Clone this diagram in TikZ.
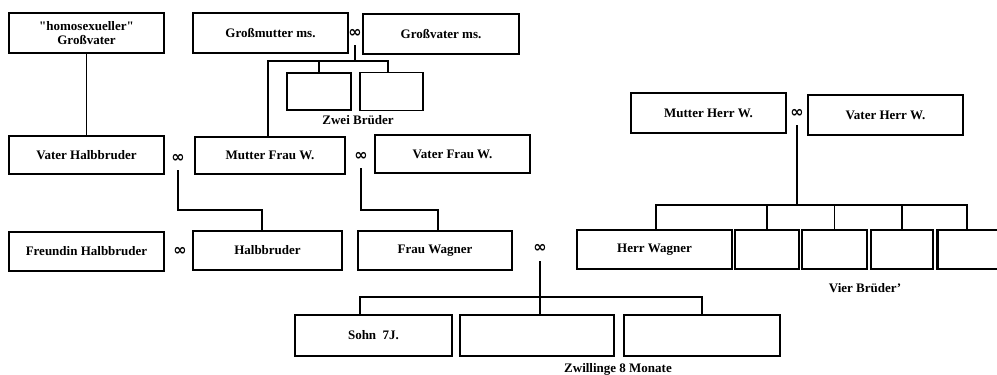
\documentclass[tikz,border=0pt]{standalone}
\usepackage{fontspec}
\setmainfont{Liberation Serif}[Ligatures=TeXOff]
\newfontfamily\symfont{DejaVu Sans}
\begin{document}
\begin{tikzpicture}[x=1pt,y=-1pt,
  box/.style={draw, line width=1.2pt, inner sep=0pt, align=center,
    font=\fontsize{13}{14.5}\selectfont\bfseries},
  thickbox/.style={box, line width=2.1pt},
  lbl/.style={inner sep=0pt, font=\fontsize{13}{14.5}\selectfont\bfseries},
  marr/.style={inner sep=0pt, font=\symfont\bfseries\fontsize{16}{16}\selectfont},
  link/.style={line width=1.1pt}]
\useasboundingbox[fill=white] (0,0) rectangle (997,375);
% generation 1
\node[box, minimum width=155pt, minimum height=40pt] (gv) at (86.5,33) {"homosexueller"\\Großvater};
\node[box, minimum width=155pt, minimum height=40pt] (gm) at (270.5,33) {Großmutter ms.};
\node[marr] (m1) at (355,33) {∞};
\node[box, minimum width=156pt, minimum height=40pt] (gvm) at (441,34) {Großvater ms.};
\node[box, minimum width=64pt, minimum height=37pt] (zb1) at (319,91.5) {};
\node[box, minimum width=63pt, minimum height=38pt] (zb2) at (391.5,91.5) {};
\node[lbl] (zbl) at (358,120) {Zwei Brüder};
% generation 2
\node[box, minimum width=155pt, minimum height=38pt] (vh) at (86.5,155) {Vater Halbbruder};
\node[marr] (m2) at (178,158) {∞};
\node[box, minimum width=150pt, minimum height=37pt] (mfw) at (270,155.5) {Mutter Frau W.};
\node[marr] (m3) at (361,156) {∞};
\node[box, minimum width=155pt, minimum height=38pt] (vfw) at (452.5,154) {Vater Frau W.};
\node[box, minimum width=155pt, minimum height=40pt] (mhw) at (708.5,113) {Mutter Herr W.};
\node[marr] (m4) at (797,113) {∞};
\node[box, minimum width=155pt, minimum height=40pt] (vhw) at (885.5,115) {Vater Herr W.};
% generation 3
\node[box, minimum width=155pt, minimum height=39pt] (fh) at (86.5,251.5) {Freundin Halbbruder};
\node[marr] (m5) at (180,251) {∞};
\node[box, minimum width=149pt, minimum height=39pt] (hb) at (267.5,250.5) {Halbbruder};
\node[thickbox, minimum width=154pt, minimum height=39pt] (fw) at (435,250.5) {Frau Wagner};
\node[marr] (m6) at (540,248) {∞};
\node[thickbox, minimum width=155pt, minimum height=39pt] (hw) at (654.5,249.5) {Herr Wagner};
\node[box, minimum width=64pt, minimum height=39pt] (b2) at (767,249.5) {};
\node[box, minimum width=65pt, minimum height=39pt] (b3) at (834.5,249.5) {};
\node[box, minimum width=62pt, minimum height=39pt] (b4) at (902,249.5) {};
\node[box, minimum width=64pt, minimum height=39pt] (b5) at (970,249.5) {};
\draw[line width=2.4pt] (b5.north west) -- (b5.south west);
\node[lbl] (vbl) at (865,288) {Vier Brüder’};
% generation 4
\node[box, minimum width=157pt, minimum height=41pt] (s7) at (373.5,335.5) {Sohn\ \ 7J.};
\node[box, minimum width=154pt, minimum height=41pt] (tw1) at (537,335.5) {};
\node[box, minimum width=156pt, minimum height=41pt] (tw2) at (702,335.5) {};
\node[lbl] (twl) at (618,369) {Zwillinge 8 Monate};
% connector junctions
\coordinate (j1l) at (268,61);
\coordinate (j1r) at (388,61);
\coordinate (j2) at (262,210);
\coordinate (j3) at (438,210);
\coordinate (j4l) at (656,205);
\coordinate (j4r) at (967,205);
\coordinate (j6l) at (360,297);
\coordinate (j6r) at (702,297);
% connectors
\draw[link] (gv.south) -- (gv.south |- vh.north);
\draw[link] ([yshift=-8pt]m1.south) -- (m1.south |- j1l);
\draw[link] (j1l |- mfw.north) -- (j1l) -- (j1r) -- (j1r |- zb2.north);
\draw[link] (zb1.north) -- (zb1.north |- j1l);
\draw[link] ([yshift=-8pt]m2.south) |- (j2) -- (j2 |- hb.north);
\draw[link] ([yshift=-8pt]m3.south) |- (j3) -- (j3 |- fw.north);
\draw[link] ([yshift=-8pt]m4.south) -- (m4.south |- j4l);
\draw[link] (j4l |- hw.north) -- (j4l) -- (j4r) -- (j4r |- b5.north);
\draw[link] (b2.north) -- (b2.north |- j4l);
\draw[link] (b3.north) -- (b3.north |- j4l);
\draw[link] (b4.north) -- (b4.north |- j4l);
\draw[link] ([yshift=-9pt]m6.south) -- (m6.south |- tw1.north);
\draw[link] (j6l |- s7.north) -- (j6l) -- (j6r) -- (j6r |- tw2.north);
\end{tikzpicture}
\end{document}
